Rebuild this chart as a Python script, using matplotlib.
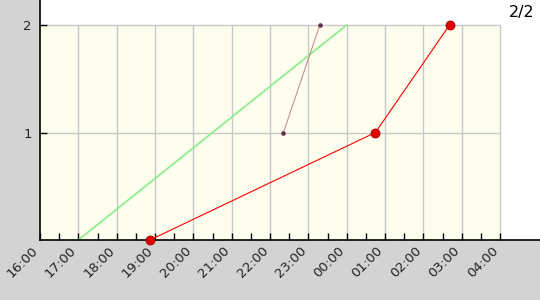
import matplotlib
matplotlib.use("Agg")
import matplotlib.pyplot as plt
import matplotlib.dates as mdates
import matplotlib.transforms as mtransforms
from matplotlib.ticker import FixedLocator
import pandas as pd

# Series (time, value)
red_t = ["2024-01-01 18:52", "2024-01-02 00:45", "2024-01-02 02:41"]
red_v = [0, 1, 2]
green_t = ["2024-01-01 17:00", "2024-01-02 00:00"]
green_v = [0, 2]
pink_t = ["2024-01-01 22:21", "2024-01-01 23:18"]
pink_v = [1, 2]

hours = pd.date_range("2024-01-01 16:00", "2024-01-02 04:00", freq="h")
halves = pd.date_range("2024-01-01 16:30", "2024-01-02 03:30", freq="h")
y_ticks = [1, 2]
page_label = "2/2"

t0, t1 = hours[0], hours[-1]
x_end = t0 + pd.Timedelta(minutes=782.6)

fig = plt.figure(figsize=(5.4, 3.0), dpi=100, facecolor="#d3d3d3")
ax = fig.add_axes([40 / 540, 60 / 300, 500 / 540, 240 / 300])
ax.set_facecolor("white")

# plot region background + grid
ax.fill_between([t0, t1], 0, 2, color="#fefeee", lw=0, zorder=0)
ax.vlines(hours[1:], 0, 2, color="#c8c8c8", lw=1, zorder=1)
ax.hlines(y_ticks, t0, t1, color="#c8c8c8", lw=1, zorder=1)

ax.plot(pd.to_datetime(green_t), green_v, color="#90ee90", lw=1.3, zorder=2)
ax.plot(pd.to_datetime(pink_t), pink_v, color="#c89090", lw=0.8, marker="o",
        ms=2.3, mfc="#603048", mec="#603048", zorder=3)
ax.plot(pd.to_datetime(red_t), red_v, color="#ff0000", lw=0.8, marker="o",
        ms=6.5, mfc="#e00000", mec="#a00000", mew=0.6, zorder=4, clip_on=False)

ax.set_xlim(t0, x_end)
ax.set_ylim(0, 240 / 107.5)

ax.xaxis.set_major_locator(FixedLocator(mdates.date2num(hours)))
ax.xaxis.set_minor_locator(FixedLocator(mdates.date2num(halves)))
ax.xaxis.set_major_formatter(mdates.DateFormatter("%H:%M"))
ax.set_yticks(y_ticks)
ax.set_yticklabels([str(v) for v in y_ticks])

ax.tick_params(axis="both", which="both", direction="in", length=5, width=1,
               color="black", labelsize=9.5, labelcolor="#222222")
ax.tick_params(axis="x", pad=6)
ax.tick_params(axis="y", pad=6)
shift = mtransforms.ScaledTranslation(-4 / 100, 0, fig.dpi_scale_trans)
for lab in ax.get_xticklabels():
    lab.set_rotation(45)
    lab.set_ha("right")
    lab.set_va("center")
    lab.set_rotation_mode("anchor")
    lab.set_transform(lab.get_transform() + shift)

for s in ["top", "right"]:
    ax.spines[s].set_visible(False)
for s in ["left", "bottom"]:
    ax.spines[s].set_linewidth(1.2)
    ax.spines[s].set_color("black")

fig.text(535 / 540, 1 - 12 / 300, page_label, ha="right", va="center",
         fontsize=11.5, color="black")

fig.savefig("out.png", dpi=100, facecolor=fig.get_facecolor())
